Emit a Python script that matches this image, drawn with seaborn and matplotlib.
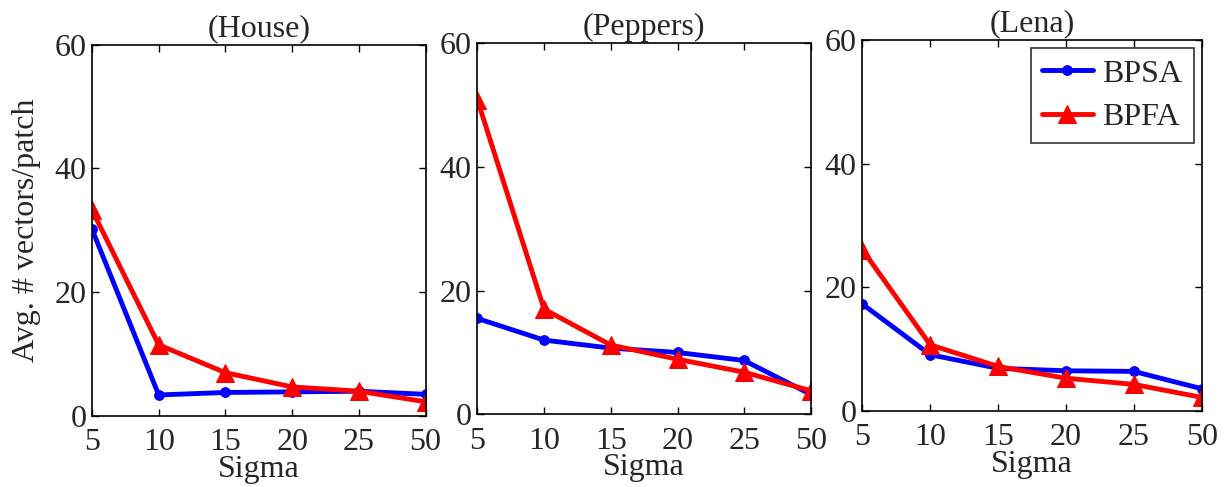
import matplotlib
matplotlib.use("Agg")
import matplotlib.pyplot as plt
import seaborn as sns
import pandas as pd
import numpy as np

sigma_labels = ["5", "10", "15", "20", "25", "50"]
panels = ["(House)", "(Peppers)", "(Lena)"]

house_bpsa = [30.2, 3.4, 3.8, 3.9, 4.0, 3.5]
house_bpfa = [33.3, 11.5, 7.0, 4.7, 4.0, 2.3]
peppers_bpsa = [15.5, 12.0, 10.7, 10.0, 8.7, 3.2]
peppers_bpfa = [50.9, 17.0, 11.2, 8.9, 6.8, 3.8]
lena_bpsa = [17.3, 9.1, 6.9, 6.5, 6.4, 3.6]
lena_bpfa = [26.1, 10.7, 7.2, 5.3, 4.3, 2.2]

series = {
    "(House)": (house_bpsa, house_bpfa),
    "(Peppers)": (peppers_bpsa, peppers_bpfa),
    "(Lena)": (lena_bpsa, lena_bpfa),
}

sns.set_theme(style="ticks")
plt.rcParams["font.family"] = ["Liberation Serif", "DejaVu Serif"]

fig = plt.figure(figsize=(12.28, 4.87), dpi=100)
rects = [
    [0.0749, 0.1458, 0.2717, 0.7624],
    [0.3887, 0.1493, 0.2717, 0.7618],
    [0.7022, 0.1561, 0.2764, 0.7618],
]

fs = 23
for i, (name, rect) in enumerate(zip(panels, rects)):
    ax = fig.add_axes(rect)
    bpsa, bpfa = series[name]
    x = np.arange(len(sigma_labels))
    df = pd.DataFrame({
        "pos": np.concatenate([x, x]),
        "val": bpsa + bpfa,
        "method": ["BPSA"] * len(x) + ["BPFA"] * len(x),
    })
    sns.lineplot(data=df[df.method == "BPSA"], x="pos", y="val", ax=ax,
                 color="#0000ff", lw=3.5, marker="o", markersize=7,
                 markeredgecolor="#0000ff", label="BPSA", legend=False)
    sns.lineplot(data=df[df.method == "BPFA"], x="pos", y="val", ax=ax,
                 color="#ff0000", lw=3.5, marker="^", markersize=13,
                 markeredgecolor="#ff0000", label="BPFA", legend=False)
    ax.set_xlim(0, 5)
    ax.set_ylim(0, 60)
    ax.set_xticks(x)
    ax.set_xticklabels(sigma_labels)
    ax.set_yticks([0, 20, 40, 60])
    ax.tick_params(direction="in", top=True, right=True, length=5,
                   width=1, labelsize=fs, color="black")
    ax.tick_params(axis="x", pad=9)
    ax.tick_params(axis="y", pad=4)
    for sp in ax.spines.values():
        sp.set_visible(True)
        sp.set_linewidth(1.2)
        sp.set_color("black")
    ax.set_title(name, fontsize=fs, pad=6)
    ax.set_xlabel("Sigma", fontsize=fs, labelpad=-2)
    if i == 0:
        ax.set_ylabel("Avg. # vectors/patch", fontsize=fs, labelpad=10)
    else:
        ax.set_ylabel("")
    if i == 2:
        leg = ax.legend(loc="upper right", fontsize=fs, frameon=True,
                        fancybox=False, edgecolor="black", handlelength=1.6,
                        borderpad=0.35, labelspacing=0.45, handletextpad=0.3,
                        borderaxespad=0.25)
        leg.get_frame().set_linewidth(1.2)

fig.savefig("out.png", dpi=100)
